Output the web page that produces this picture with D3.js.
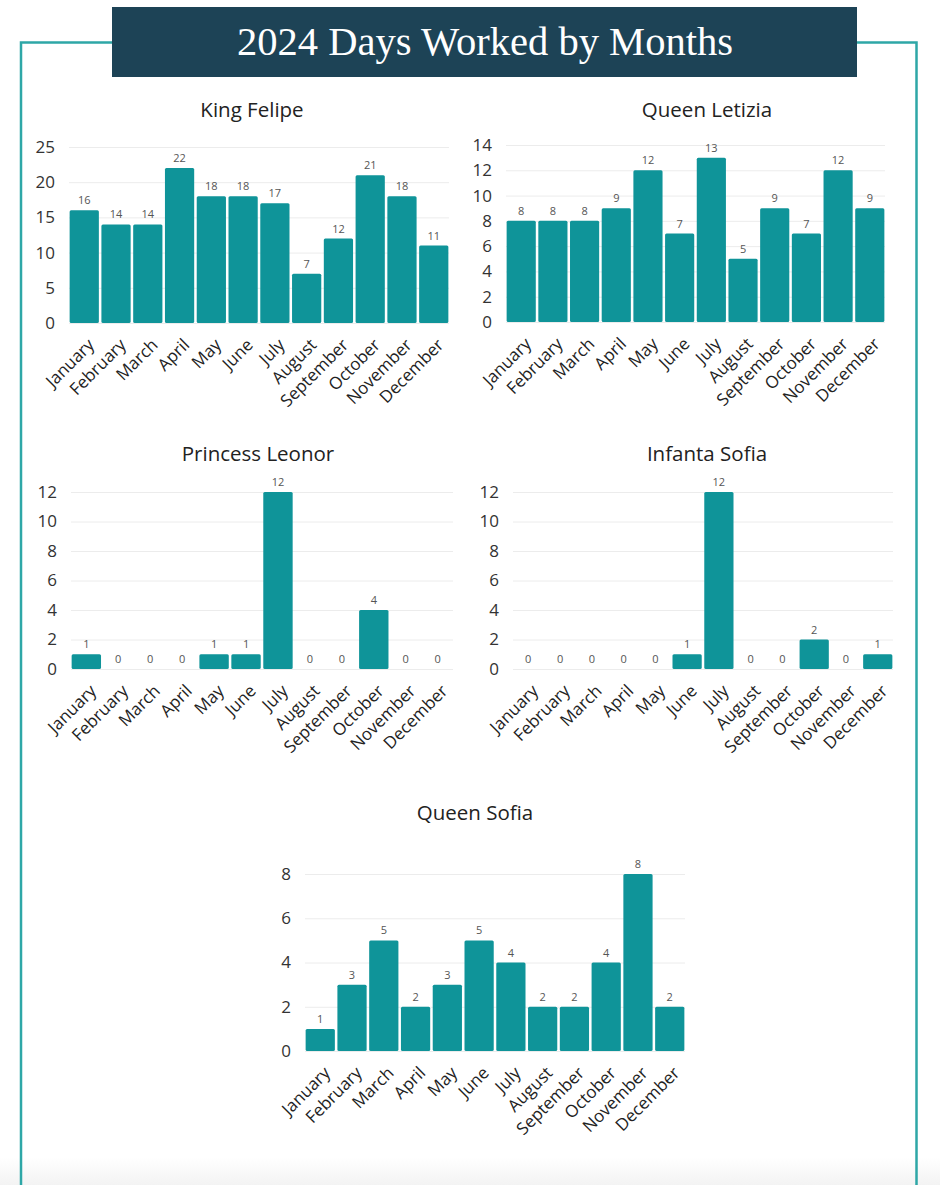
<!DOCTYPE html>
<html>
<head>
<meta charset="utf-8">
<script src="https://cdn.jsdelivr.net/npm/d3@7"></script>
<style>
  html, body { margin: 0; padding: 0; background: #ffffff; }
  svg { display: block; }
</style>
</head>
<body>
<svg id="chart" width="940" height="1185"></svg>
<script>
const months = ["January","February","March","April","May","June","July","August","September","October","November","December"];

const kingFelipe     = [16, 14, 14, 22, 18, 18, 17, 7, 12, 21, 18, 11];
const queenLetizia   = [8, 8, 8, 9, 12, 7, 13, 5, 9, 7, 12, 9];
const princessLeonor = [1, 0, 0, 0, 1, 1, 12, 0, 0, 4, 0, 0];
const infantaSofia   = [0, 0, 0, 0, 0, 1, 12, 0, 0, 2, 0, 1];
const queenSofia     = [1, 3, 5, 2, 3, 5, 4, 2, 2, 4, 8, 2];

const felipeTicks  = [0, 5, 10, 15, 20, 25];
const letiziaTicks = [0, 2, 4, 6, 8, 10, 12, 14];
const leonorTicks  = [0, 2, 4, 6, 8, 10, 12];
const infantaTicks = [0, 2, 4, 6, 8, 10, 12];
const sofiaTicks   = [0, 2, 4, 6, 8];

const mainTitle = "2024 Days Worked by Months";

const svg = d3.select("#chart");
const W = 940, H = 1185;
const teal = "#0f9499";
const frameColor = "#2ea7a7";
const labelFont = "'Open Sans', 'Noto Sans', sans-serif";

// bottom soft shade
const defs = svg.append("defs");
const grad = defs.append("linearGradient").attr("id", "shade").attr("x1", 0).attr("y1", 0).attr("x2", 0).attr("y2", 1);
grad.append("stop").attr("offset", "0%").attr("stop-color", "#ffffff");
grad.append("stop").attr("offset", "100%").attr("stop-color", "#f3f3f3");
svg.append("rect").attr("x", 0).attr("y", 1158).attr("width", W).attr("height", 27).attr("fill", "url(#shade)");

// frame
svg.append("path")
  .attr("d", `M21,${H} L21,42.5 L916.5,42.5 L916.5,${H}`)
  .attr("fill", "none").attr("stroke", frameColor).attr("stroke-width", 2.5);

// title box
svg.append("rect").attr("x", 112).attr("y", 7).attr("width", 745).attr("height", 70).attr("fill", "#1d4356");
svg.append("text")
  .attr("x", 485).attr("y", 55)
  .attr("text-anchor", "middle")
  .attr("font-family", "'Liberation Serif', 'DejaVu Serif', serif")
  .attr("font-size", 40)
  .attr("fill", "#ffffff")
  .attr("textLength", 496).attr("lengthAdjust", "spacingAndGlyphs")
  .text(mainTitle);

function drawChart(cfg) {
  const g = svg.append("g");
  const x = d3.scaleBand().domain(months).range([cfg.x0, cfg.x1]).paddingInner(0.08).paddingOuter(0.02);
  const y = d3.scaleLinear().domain([0, cfg.max]).range([cfg.yBottom, cfg.yTop]);

  // title
  g.append("text")
    .attr("x", cfg.titleX).attr("y", cfg.titleY)
    .attr("text-anchor", "middle")
    .attr("font-family", labelFont)
    .attr("font-size", 20.5)
    .attr("fill", "#222")
    .text(cfg.title);

  // gridlines
  g.selectAll(".grid").data(cfg.ticks).join("line")
    .attr("x1", cfg.x0).attr("x2", cfg.x1)
    .attr("y1", d => y(d) + 0.5).attr("y2", d => y(d) + 0.5)
    .attr("stroke", "#ececec").attr("stroke-width", 1);

  // y axis
  const yAxis = d3.axisLeft(y).tickValues(cfg.ticks).tickSize(0).tickPadding(14).tickFormat(d3.format("d"));
  const ya = g.append("g").attr("transform", `translate(${cfg.x0},0)`).call(yAxis);
  ya.select(".domain").remove();
  ya.selectAll("text").attr("font-family", labelFont).attr("font-size", 17).attr("fill", "#333");

  // bars
  g.selectAll(".bar").data(cfg.values).join("rect")
    .attr("x", (d, i) => x(months[i]))
    .attr("y", d => y(d))
    .attr("width", x.bandwidth())
    .attr("height", d => y(0) - y(d))
    .attr("rx", 1.5)
    .attr("fill", teal);

  // value labels
  g.selectAll(".val").data(cfg.values).join("text")
    .attr("x", (d, i) => x(months[i]) + x.bandwidth() / 2)
    .attr("y", d => y(d) - 6)
    .attr("text-anchor", "middle")
    .attr("font-family", labelFont)
    .attr("font-size", 11)
    .attr("fill", "#555")
    .text(d => d);

  // x axis
  const xAxis = d3.axisBottom(x).tickSize(0).tickPadding(0);
  const xa = g.append("g").attr("transform", `translate(0,${cfg.yBottom})`).call(xAxis);
  xa.select(".domain").remove();
  xa.selectAll("text")
    .attr("font-family", labelFont)
    .attr("font-size", 17)
    .attr("fill", "#222")
    .attr("text-anchor", "end")
    .attr("dy", "0")
    .attr("transform", "translate(11,23) rotate(-45)");
}

drawChart({ title: "King Felipe", values: kingFelipe, ticks: felipeTicks, max: 25,
  x0: 69, x1: 449, yTop: 147, yBottom: 323, titleX: 252, titleY: 117 });
drawChart({ title: "Queen Letizia", values: queenLetizia, ticks: letiziaTicks, max: 14,
  x0: 506, x1: 885, yTop: 145, yBottom: 322, titleX: 707, titleY: 117 });
drawChart({ title: "Princess Leonor", values: princessLeonor, ticks: leonorTicks, max: 12,
  x0: 71, x1: 453, yTop: 492, yBottom: 669, titleX: 258, titleY: 461 });
drawChart({ title: "Infanta Sofia", values: infantaSofia, ticks: infantaTicks, max: 12,
  x0: 513, x1: 893, yTop: 492, yBottom: 669, titleX: 707, titleY: 461 });
drawChart({ title: "Queen Sofia", values: queenSofia, ticks: sofiaTicks, max: 8,
  x0: 305, x1: 685, yTop: 874, yBottom: 1051, titleX: 475, titleY: 820 });
</script>
</body>
</html>
